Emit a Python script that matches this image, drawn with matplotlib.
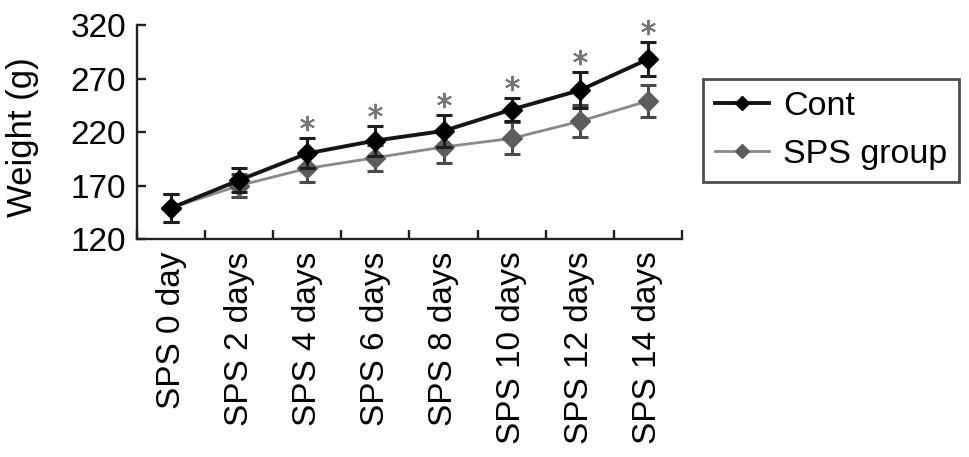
import matplotlib
matplotlib.use('Agg')
import matplotlib.pyplot as plt
import numpy as np

plt.rcParams['font.family'] = ['Liberation Sans', 'DejaVu Sans']

# data
days = ['SPS 0 day', 'SPS 2 days', 'SPS 4 days', 'SPS 6 days',
        'SPS 8 days', 'SPS 10 days', 'SPS 12 days', 'SPS 14 days']
cont_mean = [149, 175, 200, 212, 221, 241, 259, 288]
cont_err = [13, 11, 14, 14, 15, 11, 17, 16]
sps_mean = [149, 170, 186, 196, 206, 214, 230, 249]
sps_err = [13, 11, 13, 12, 15, 15, 15, 15]
signif = [False, False, True, True, True, True, True, True]
yticks = [120, 170, 220, 270, 320]

fig = plt.figure(figsize=(9.69, 4.57), dpi=100)
ax = fig.add_axes([0.1414, 0.477, 0.5624, 0.4683])

x = np.arange(len(days))

# SPS group first so Cont sits on top
ax.errorbar(x, sps_mean, yerr=sps_err, fmt='none', ecolor='#4a4a4a',
            elinewidth=2.2, capsize=5.5, capthick=2.2, zorder=2)
ax.plot(x, sps_mean, color='#8a8a8a', lw=2, marker='D', ms=10,
        mfc='#5c5c5c', mec='#5c5c5c', label='SPS group', zorder=3)
ax.errorbar(x, cont_mean, yerr=cont_err, fmt='none', ecolor='#1e1e1e',
            elinewidth=2.2, capsize=5.5, capthick=2.2, zorder=4)
ax.plot(x, cont_mean, color='#151515', lw=2.8, marker='D', ms=10,
        mfc='#000000', mec='#000000', label='Cont', zorder=5)

# significance stars above the Cont error bars
sx = [x[i] for i in range(len(days)) if signif[i]]
sy = [cont_mean[i] + cont_err[i] + 14 for i in range(len(days)) if signif[i]]
ax.plot(sx, sy, ls='none', marker=(6, 2, 0), ms=11, mew=1.4,
        color='#777777', clip_on=False)

ax.set_xlim(-0.5, len(days) - 0.5)
ax.set_ylim(120, 320)
ax.set_yticks(yticks)
ax.set_yticklabels([str(v) for v in yticks], fontsize=24)

# category labels between boundary ticks
ax.set_xticks(np.arange(len(days) + 1) - 0.5)
ax.set_xticklabels([])
ax.set_xticks(x, minor=True)
ax.set_xticklabels(days, minor=True, rotation=90, fontsize=24, va='top')
ax.tick_params(axis='x', which='minor', length=0, pad=9)
ax.tick_params(axis='both', which='major', direction='in', length=6.5,
               width=1.7, color='#222222')
ax.tick_params(axis='y', pad=8)

for side in ['top', 'right']:
    ax.spines[side].set_visible(False)
for side in ['left', 'bottom']:
    ax.spines[side].set_linewidth(1.7)
    ax.spines[side].set_color('#222222')

ax.set_ylabel('Weight (g)', fontsize=25)
ax.yaxis.set_label_coords(-0.18, 0.474)

handles, labels = ax.get_legend_handles_labels()
leg = fig.legend(handles[::-1], labels[::-1], loc='upper left',
                 bbox_to_anchor=(0.7255, 0.827), borderaxespad=0,
                 fontsize=24.5, frameon=True, fancybox=False,
                 edgecolor='#222222', handlelength=1.6, handletextpad=0.4,
                 markerscale=0.7, borderpad=0.35, labelspacing=0.5)
leg.get_frame().set_linewidth(2)

fig.savefig('out.png', dpi=100)
